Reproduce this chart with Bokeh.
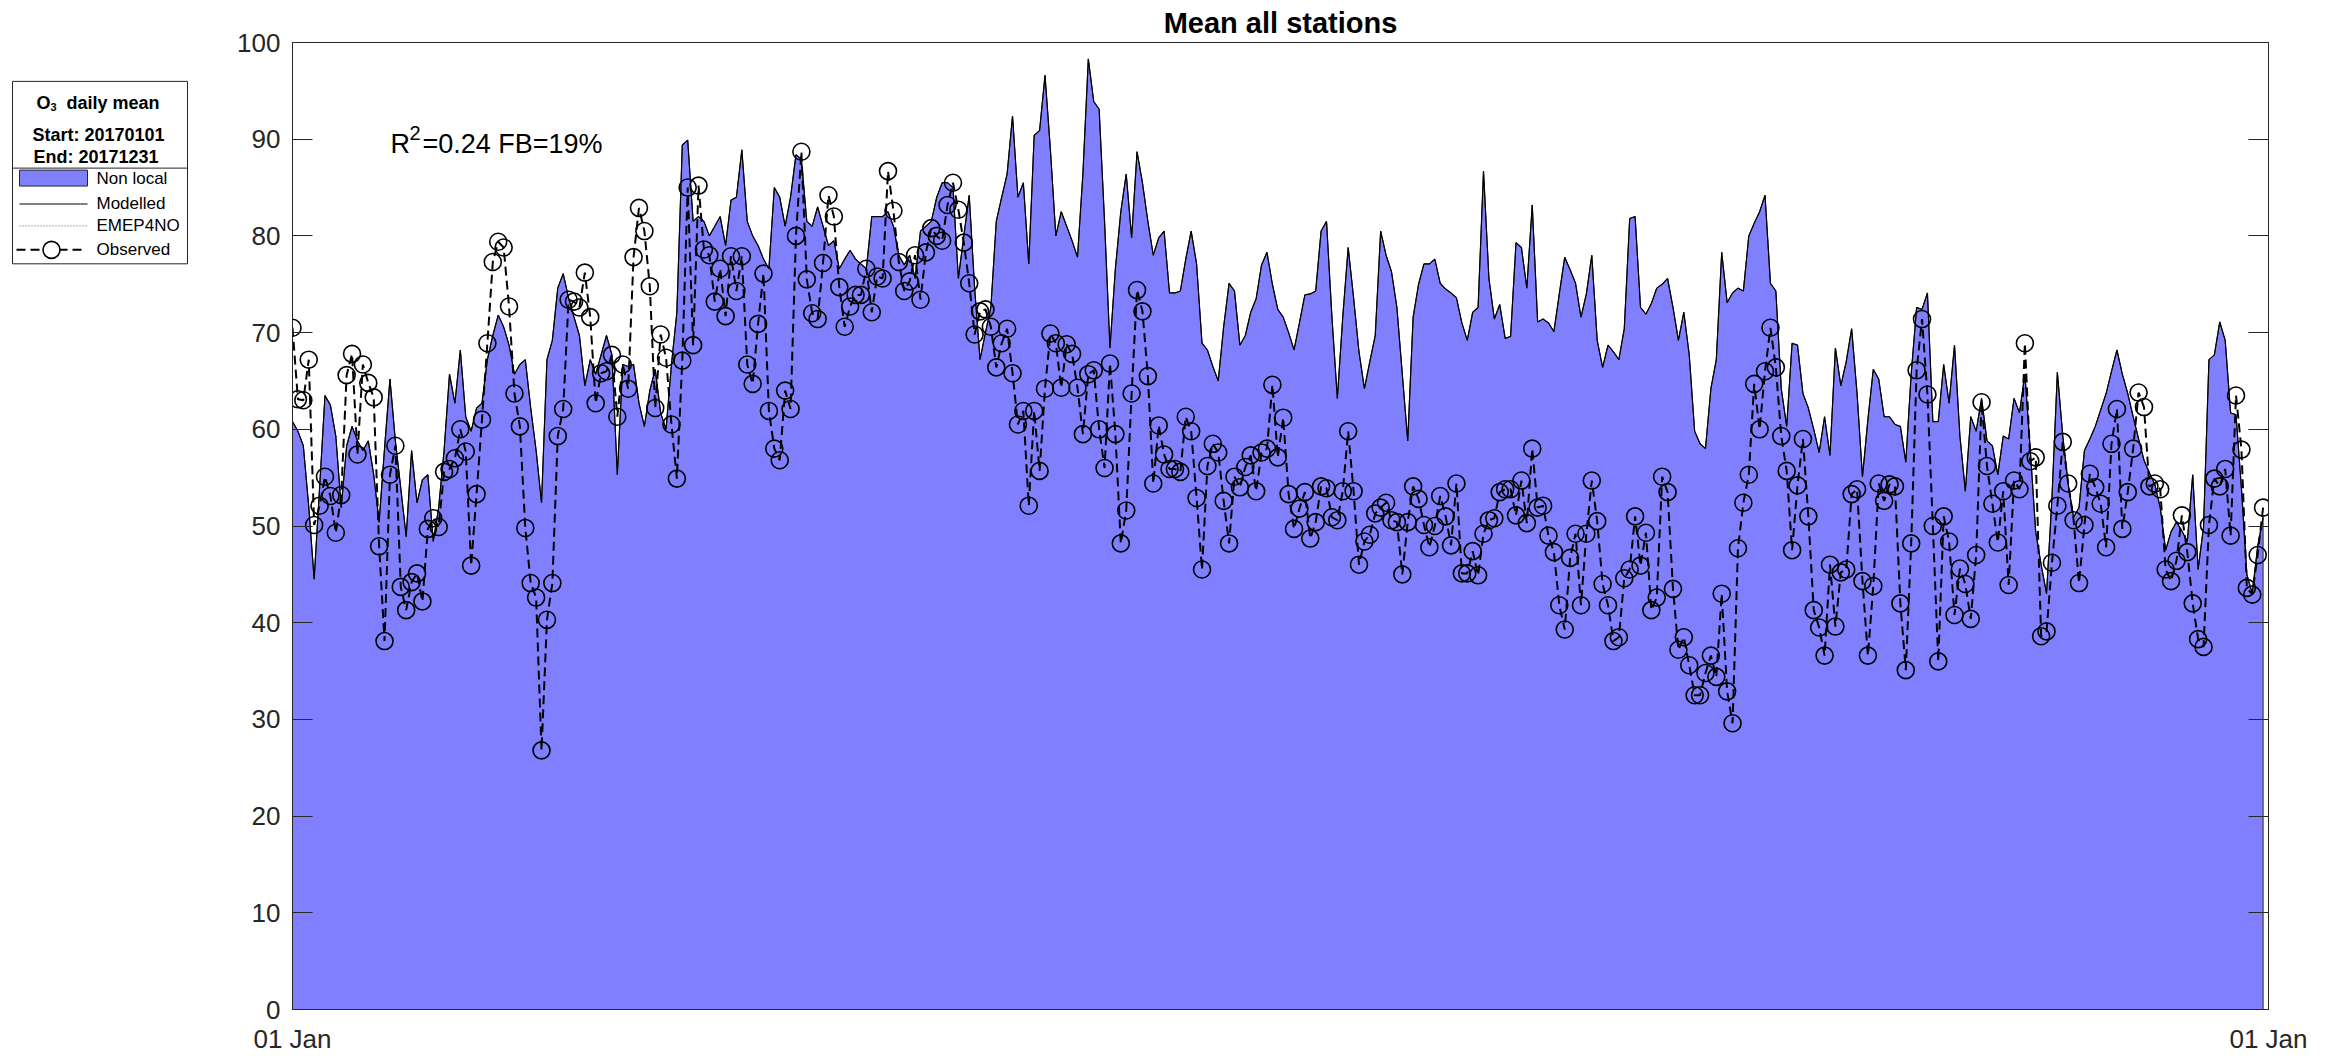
import pandas as pd
from bokeh.plotting import figure
from bokeh.layouts import row
from bokeh.models import (Range1d, LinearAxis, FixedTicker, DatetimeTickFormatter,
                          Label, CustomJSTickFormatter)
from bokeh.core.properties import value
from bokeh.embed import file_html
from bokeh.resources import INLINE

# ---------------- data ----------------
start_date = "2017-01-01"
end_date = "2018-01-01"
y_ticks = [0, 10, 20, 30, 40, 50, 60, 70, 80, 90, 100]
x_tick_dates = ["2017-01-01", "2018-01-01"]

modelled = [
    60.8, 59.8, 58.3, 52.0, 44.5, 53.9, 63.5, 62.5, 59.3, 51.9,
    58.3, 60.3, 58.8, 57.8, 58.8, 55.3, 50.4, 58.0, 65.2, 58.8,
    53.9, 48.9, 57.8, 52.4, 54.8, 55.3, 48.4, 51.9, 57.8, 65.7,
    62.7, 68.2, 61.3, 59.8, 62.2, 62.7, 67.2, 69.7, 71.8, 70.6,
    68.7, 65.7, 66.7, 67.2, 62.2, 57.8, 52.4, 67.2, 69.2, 74.6,
    76.1, 73.6, 71.6, 69.7, 64.5, 67.2, 65.7, 67.7, 69.7, 67.7,
    55.3, 66.7, 66.5, 66.7, 62.7, 60.3, 64.0, 66.2, 61.7, 60.0,
    66.7, 72.1, 89.4, 89.9, 81.5, 82.0, 81.5, 80.0, 81.0, 82.0,
    79.0, 83.7, 84.0, 88.9, 81.5, 80.0, 79.0, 77.6, 76.6, 85.0,
    84.0, 81.0, 84.0, 88.4, 87.9, 81.5, 81.0, 83.0, 81.0, 79.0,
    79.5, 76.6, 77.6, 78.5, 77.6, 77.1, 76.6, 82.0, 82.0, 82.0,
    82.5, 81.0, 78.0, 77.0, 78.0, 75.6, 80.5, 81.0, 81.5, 84.0,
    85.5, 85.5, 85.0, 75.6, 80.0, 84.2, 74.6, 67.2, 70.0, 72.6,
    81.5, 84.0, 86.4, 92.4, 84.0, 85.5, 77.1, 90.4, 90.9, 96.6,
    88.9, 80.0, 82.5, 81.0, 79.5, 77.8, 86.4, 98.3, 93.9, 93.1,
    81.5, 68.4, 76.6, 82.5, 86.4, 79.8, 88.7, 85.5, 81.5, 78.0,
    79.8, 80.5, 74.1, 74.1, 74.3, 77.6, 80.5, 77.1, 68.9, 68.2,
    66.5, 65.0, 70.6, 75.1, 74.3, 68.7, 69.7, 72.1, 73.5, 77.0,
    78.3, 75.0, 72.4, 71.6, 70.0, 68.2, 71.0, 73.9, 74.0, 74.3,
    80.5, 81.5, 71.6, 63.2, 71.6, 78.8, 73.6, 68.0, 64.2, 67.0,
    69.7, 80.5, 78.0, 76.3, 72.6, 65.7, 58.8, 71.6, 75.0, 77.1,
    77.1, 77.6, 75.1, 74.5, 74.1, 73.6, 71.0, 69.2, 72.1, 72.6,
    86.7, 75.6, 71.4, 72.9, 69.4, 69.6, 79.3, 78.8, 74.6, 83.2,
    71.1, 71.4, 71.0, 70.1, 74.0, 77.8, 76.5, 75.1, 71.6, 74.0,
    78.0, 69.2, 66.4, 68.7, 68.0, 67.2, 70.4, 81.8, 82.0, 72.6,
    71.9, 73.0, 74.6, 75.0, 75.6, 72.6, 69.2, 72.1, 67.7, 59.8,
    58.5, 58.0, 64.2, 67.2, 78.3, 73.1, 74.1, 74.6, 74.3, 80.0,
    81.3, 82.5, 84.2, 75.1, 74.3, 64.2, 60.3, 68.9, 68.7, 63.7,
    62.2, 60.0, 57.6, 61.3, 57.3, 68.4, 64.5, 67.0, 70.4, 63.7,
    55.1, 61.0, 66.2, 65.2, 61.3, 61.3, 60.5, 60.3, 56.6, 65.7,
    72.6, 72.4, 74.1, 60.8, 60.8, 66.7, 62.7, 68.7, 59.3, 53.6,
    61.3, 59.8, 63.2, 58.8, 58.3, 55.3, 59.3, 59.0, 63.2, 61.7,
    65.7, 57.8, 49.4, 46.0, 43.0, 52.9, 65.9, 59.3, 54.3, 50.9,
    51.9, 57.8, 59.0, 60.3, 62.0, 63.7, 66.0, 68.2, 65.7, 63.7,
    61.3, 59.0, 56.8, 55.5, 54.3, 51.9, 47.5, 49.4, 50.4, 49.5,
    48.4, 55.3, 45.5, 49.9, 67.2, 67.7, 71.1, 69.2, 61.7, 61.5,
    53.9, 45.0, 43.0, 47.9, 50.9,
]

observed = [
    70.5, 63.1, 63.0, 67.2, 50.1, 52.1, 55.1, 53.1, 49.3, 53.2,
    65.6, 67.8, 57.4, 66.7, 64.8, 63.3, 47.9, 38.1, 55.3, 58.3,
    43.7, 41.3, 44.2, 45.1, 42.2, 49.7, 50.8, 49.9, 55.6, 55.9,
    57.0, 60.0, 57.7, 45.9, 53.3, 61.0, 68.9, 77.3, 79.4, 78.8,
    72.7, 63.7, 60.3, 49.8, 44.1, 42.6, 26.8, 40.3, 44.1, 59.3,
    62.1, 73.4, 73.2, 72.6, 76.2, 71.6, 62.7, 65.8, 66.0, 67.7,
    61.3, 66.7, 64.2, 77.8, 82.9, 80.5, 74.8, 62.2, 69.8, 67.4,
    60.5, 54.9, 67.1, 85.0, 68.7, 85.2, 78.6, 78.0, 73.2, 76.6,
    71.7, 77.9, 74.3, 77.9, 66.7, 64.7, 70.9, 76.1, 61.9, 58.0,
    56.8, 64.0, 62.1, 80.0, 88.7, 75.5, 72.0, 71.4, 77.2, 84.2,
    82.0, 74.7, 70.6, 72.7, 73.9, 73.9, 76.6, 72.1, 75.8, 75.6,
    86.7, 82.6, 77.3, 74.3, 75.3, 78.0, 73.4, 78.3, 80.8, 80.0,
    79.5, 83.2, 85.5, 82.7, 79.3, 75.1, 69.8, 72.2, 72.4, 70.6,
    66.4, 68.9, 70.4, 65.8, 60.5, 61.9, 52.1, 61.9, 55.7, 64.2,
    69.9, 68.9, 64.3, 68.8, 67.8, 64.3, 59.5, 65.7, 66.1, 60.0,
    56.0, 66.8, 59.5, 48.2, 51.6, 63.7, 74.4, 72.2, 65.5, 54.4,
    60.4, 57.4, 55.9, 55.9, 55.6, 61.3, 59.8, 52.9, 45.5, 56.2,
    58.5, 57.6, 52.6, 48.2, 55.1, 54.0, 56.1, 57.3, 53.6, 57.6,
    58.0, 64.6, 57.1, 61.2, 53.3, 49.7, 51.8, 53.5, 48.7, 50.4,
    54.1, 53.9, 50.9, 50.6, 53.6, 59.8, 53.6, 46.0, 48.4, 49.1,
    51.3, 51.9, 52.4, 50.6, 50.4, 45.0, 50.4, 54.1, 52.8, 50.1,
    47.8, 50.0, 53.1, 51.0, 48.0, 54.4, 45.1, 45.1, 47.4, 44.9,
    49.2, 50.6, 50.8, 53.5, 53.8, 53.8, 51.1, 54.7, 50.3, 58.0,
    51.9, 52.1, 49.0, 47.3, 41.8, 39.3, 46.7, 49.2, 41.8, 49.2,
    54.7, 50.5, 44.0, 41.8, 38.1, 38.5, 44.6, 45.5, 51.0, 45.9,
    49.3, 41.3, 42.6, 55.1, 53.5, 43.5, 37.2, 38.5, 35.6, 32.5,
    32.5, 34.8, 36.6, 34.4, 43.0, 32.9, 29.6, 47.7, 52.4, 55.3,
    64.7, 60.0, 66.0, 70.5, 66.4, 59.3, 55.7, 47.5, 54.2, 59.0,
    51.0, 41.3, 39.5, 36.6, 46.0, 39.6, 45.2, 45.5, 53.3, 53.8,
    44.3, 36.6, 43.8, 54.4, 52.6, 54.3, 54.1, 42.0, 35.1, 48.2,
    66.1, 71.4, 63.6, 50.0, 36.0, 51.0, 48.4, 40.8, 45.6, 44.0,
    40.4, 47.0, 62.8, 56.2, 52.3, 48.3, 53.6, 43.9, 54.7, 53.8,
    68.9, 56.7, 57.1, 38.6, 39.1, 46.2, 52.1, 58.7, 54.4, 50.6,
    44.1, 50.1, 55.4, 54.0, 52.3, 47.8, 58.5, 62.1, 49.7, 53.5,
    58.0, 63.8, 62.3, 54.1, 54.4, 53.8, 45.5, 44.3, 46.4, 51.1,
    47.3, 42.0, 38.3, 37.5, 50.1, 54.9, 54.1, 55.9, 49.0, 63.5,
    57.9, 43.6, 42.9, 47.0, 51.9,
]

# EMEP4NO is practically identical to the modelled series at this scale
emep4no = list(modelled)

title_text = "Mean all stations"
stats_r = "R"
stats_sup = "2"
stats_rest = "=0.24 FB=19%"
legend_head = ["daily mean", "Start: 20170101", "End:  20171231"]
legend_items = ["Non local", "Modelled", "EMEP4NO", "Observed"]

# ---------------- styling ----------------
FONT = "Liberation Sans"
AX = "#262626"
FILL = "#8080FF"
W, H = 2333, 1056
LEG_W = 208
TOP, BOTTOM = 42, 44          # border sizes (frame spans page y 42..1012)

dates = pd.date_range(start_date, periods=len(modelled), freq="D")

p = figure(width=W - LEG_W, height=H, x_axis_type="datetime",
           x_range=Range1d(pd.Timestamp(start_date), pd.Timestamp(end_date)),
           y_range=Range1d(0, 100),
           toolbar_location=None, output_backend="svg",
           min_border_left=84, min_border_right=65,
           min_border_top=TOP, min_border_bottom=BOTTOM,
           title=title_text)
p.title.text_font = FONT
p.title.text_font_size = "29px"
p.title.text_font_style = "bold"
p.title.text_color = "#000000"
p.title.align = "center"
p.title.standoff = 7
p.xgrid.visible = False
p.ygrid.visible = False
p.outline_line_color = AX
p.outline_line_width = 1
p.outline_line_alpha = 1
p.background_fill_color = "white"
p.border_fill_color = "white"

# area, lines, markers
area_x = list(dates) + [dates[-1], dates[0]]
area_y = list(modelled) + [0, 0]
p.patch(area_x, area_y, fill_color=FILL, fill_alpha=1, line_color=AX, line_width=1)
p.line(dates, emep4no, line_color="#606060", line_width=1, line_dash="1 2")
p.line(dates, modelled, line_color="black", line_width=1.2)
p.line(dates, observed, line_color="black", line_width=2, line_dash="9 5")
p.scatter(dates, observed, marker="circle", size=17, fill_color=None,
          line_color="black", line_width=1.6)

# axes
tick_ms = [pd.Timestamp(d).value // 10**6 for d in x_tick_dates]
xa = p.xaxis[0]
xa.ticker = FixedTicker(ticks=tick_ms)
fmt = "%d %b"
xa.formatter = DatetimeTickFormatter(milliseconds=fmt, seconds=fmt, minsec=fmt, minutes=fmt,
                                     hourmin=fmt, hours=fmt, days=fmt, months=fmt, years=fmt)
ya = p.yaxis[0]
ya.ticker = FixedTicker(ticks=y_ticks)
for ax in (xa, ya):
    ax.major_tick_in = 20
    ax.major_tick_out = 0
    ax.minor_tick_in = 0
    ax.minor_tick_out = 0
    ax.axis_line_color = AX
    ax.major_tick_line_color = AX
    ax.major_label_text_font = FONT
    ax.major_label_text_font_size = "26px"
    ax.major_label_text_color = AX
ya.major_label_standoff = 12
xa.major_label_standoff = 14

ra = LinearAxis(ticker=FixedTicker(ticks=y_ticks),
                formatter=CustomJSTickFormatter(code="return ''"),
                major_tick_in=20, major_tick_out=0, minor_tick_in=0, minor_tick_out=0,
                axis_line_color=AX, major_tick_line_color=AX)
p.add_layout(ra, "right")

# statistics text
p.add_layout(Label(x=98, y=866, x_units="screen", y_units="screen", text=stats_r,
                   text_font=FONT, text_font_size="27px", text_color="#000000",
                   text_baseline="alphabetic"))
p.add_layout(Label(x=117, y=877, x_units="screen", y_units="screen", text=stats_sup,
                   text_font=FONT, text_font_size="20px", text_color="#000000",
                   text_baseline="alphabetic"))
p.add_layout(Label(x=130, y=866, x_units="screen", y_units="screen", text=stats_rest,
                   text_font=FONT, text_font_size="27px", text_color="#000000",
                   text_baseline="alphabetic"))

# ---------------- legend panel (1 unit = 1 page px, y downwards) ----------------
leg = figure(width=LEG_W, height=H, x_range=Range1d(0, LEG_W),
             y_range=Range1d(H - BOTTOM, TOP),
             toolbar_location=None, output_backend="svg", min_border=0,
             min_border_left=0, min_border_right=0,
             min_border_top=TOP, min_border_bottom=BOTTOM,
             x_axis_location=None, y_axis_location=None, outline_line_color=None,
             title=None)
leg.grid.visible = False

leg.quad(left=12, right=187, top=81, bottom=264, fill_color="white",
         line_color=AX, line_width=1)
leg.segment(x0=[12], y0=[168], x1=[187], y1=[168], line_color=AX, line_width=1)

# header
leg.text(x=[36], y=[103], text=["O"], text_font=value(FONT), text_font_size="18px",
         text_font_style="bold", text_baseline="alphabetic", text_align="left", text_color="black")
leg.text(x=[50], y=[107], text=["3"], text_font=value(FONT), text_font_size="11px",
         text_font_style="bold", text_baseline="alphabetic", text_align="left", text_color="black")
leg.text(x=[66], y=[103], text=[legend_head[0]], text_font=value(FONT), text_font_size="18px",
         text_font_style="bold", text_baseline="alphabetic", text_align="left", text_color="black")
leg.text(x=[98, 98], y=[135, 157], text=legend_head[1:], text_font=value(FONT),
         text_font_size="18px", text_font_style="bold", text_baseline="alphabetic",
         text_align="center", text_color="black")

# entries
leg.quad(left=19, right=87, top=170, bottom=186, fill_color=FILL, line_color=AX, line_width=1)
leg.segment(x0=[19], y0=[204], x1=[87], y1=[204], line_color="black", line_width=1.2)
leg.segment(x0=[19], y0=[226], x1=[87], y1=[226], line_color="#606060", line_width=1,
            line_dash="1 2")
leg.segment(x0=[16], y0=[250], x1=[86], y1=[250], line_color="black", line_width=2,
            line_dash="9 5")
leg.scatter(x=[51], y=[250], marker="circle", size=17, fill_color="white",
            line_color="black", line_width=1.6)
leg.text(x=[96, 96, 96, 96], y=[178, 204, 226, 250], text=legend_items,
         text_font=value(FONT), text_font_size="17px", text_baseline="middle",
         text_align="left", text_color="black")

layout = row(leg, p)
open("out.html", "w").write(file_html(layout, INLINE))
